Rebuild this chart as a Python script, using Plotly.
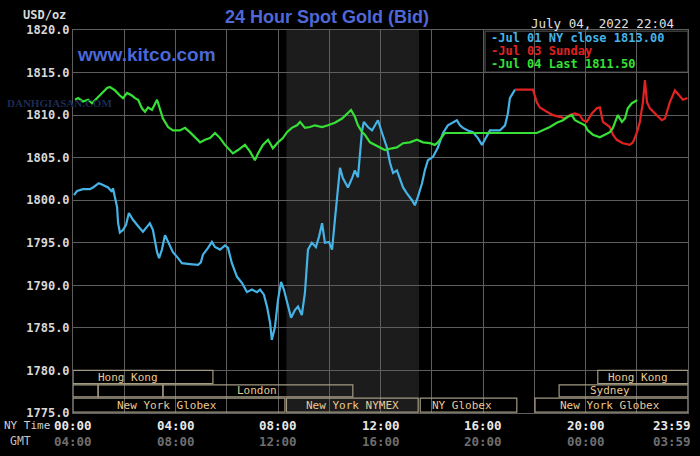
import plotly.graph_objects as go

# ---------------- data (NY time in hours, price USD/oz) ----------------
jul01_t = [0.04, 0.16, 0.39, 0.66, 0.78, 1.01, 1.17, 1.37, 1.52, 1.56, 1.64, 1.72, 1.76, 1.83, 1.95,
           2.07, 2.18, 2.34, 2.61, 2.73, 2.89, 3.00, 3.12, 3.20, 3.28, 3.36, 3.47, 3.59, 3.71, 3.90,
           4.10, 4.25, 4.56, 4.88, 4.99, 5.07, 5.27, 5.42, 5.54, 5.74, 5.93, 6.05, 6.20, 6.40, 6.59,
           6.79, 6.98, 7.18, 7.30, 7.45, 7.57, 7.69, 7.76, 7.88, 8.00, 8.12, 8.23, 8.39, 8.51, 8.66,
           8.78, 8.93, 9.05, 9.17, 9.32, 9.48, 9.60, 9.72, 9.83, 9.99, 10.11, 10.22, 10.34, 10.42,
           10.53, 10.73, 10.89, 11.00, 11.12, 11.20, 11.28, 11.35, 11.51, 11.67, 11.78, 11.90, 12.06,
           12.25, 12.37, 12.49, 12.64, 12.76, 12.88, 13.03, 13.23, 13.34, 13.46, 13.62, 13.73, 13.85,
           14.05, 14.24, 14.44, 14.63, 14.83, 14.98, 15.10, 15.22, 15.41, 15.61, 15.80, 15.96, 16.07,
           16.27, 16.46, 16.66, 16.86, 16.97, 17.05, 17.17, 17.25]
jul01_v = [1800.6, 1801.1, 1801.3, 1801.3, 1801.5, 1802.0, 1801.8, 1801.5, 1801.0, 1801.4, 1800.3,
           1799.2, 1797.3, 1796.2, 1796.5, 1797.1, 1798.5, 1797.7, 1796.7, 1796.3, 1796.9, 1797.3,
           1796.5, 1795.3, 1793.9, 1793.2, 1794.2, 1795.9, 1795.1, 1793.9, 1793.2, 1792.6, 1792.5,
           1792.4, 1792.7, 1793.6, 1794.4, 1795.1, 1794.5, 1794.2, 1794.7, 1794.4, 1792.6, 1791.0,
           1790.3, 1789.2, 1789.5, 1789.2, 1789.5, 1788.9, 1787.5, 1785.6, 1783.6, 1785.1, 1788.3,
           1790.4, 1789.5, 1787.5, 1786.2, 1787.1, 1787.5, 1786.5, 1789.1, 1794.2, 1795.0, 1794.5,
           1795.7, 1797.3, 1795.0, 1795.1, 1794.2, 1797.7, 1801.5, 1803.8, 1802.6, 1801.5, 1802.6,
           1803.5, 1802.7, 1805.5, 1808.2, 1809.2, 1808.6, 1808.2, 1808.8, 1809.4, 1807.9, 1806.2,
           1804.4, 1803.2, 1803.5, 1802.4, 1801.5, 1800.8, 1800.0, 1799.4, 1800.4, 1802.0, 1803.5,
           1804.7, 1805.1, 1806.2, 1807.9, 1808.8, 1809.2, 1809.4, 1808.8, 1808.5, 1808.2, 1808.0,
           1807.3, 1806.5, 1807.1, 1808.2, 1808.2, 1808.2, 1808.8, 1810.2, 1812.0, 1812.7, 1813.0]

jul03_t = [17.25, 17.95, 18.10, 18.22, 18.49, 18.73, 19.00, 19.20, 19.39, 19.59, 19.78, 19.90, 20.05,
           20.25, 20.44, 20.56, 20.68, 20.84, 20.95, 21.07, 21.22, 21.46, 21.73, 21.85, 22.01, 22.12,
           22.24, 22.32, 22.40, 22.51, 22.79, 22.98, 23.10, 23.29, 23.49, 23.69, 23.80, 23.98]
jul03_v = [1813.0, 1813.0, 1811.5, 1810.9, 1810.4, 1810.0, 1809.8, 1809.6, 1810.0, 1810.2, 1810.0,
           1809.4, 1809.2, 1810.2, 1810.8, 1810.9, 1809.2, 1808.8, 1808.6, 1807.7, 1807.1, 1806.7,
           1806.5, 1806.8, 1808.0, 1809.2, 1811.5, 1814.1, 1811.5, 1810.8, 1810.0, 1809.4, 1809.6,
           1811.5, 1812.9, 1812.1, 1811.8, 1812.0]

jul04_t = [0.08, 0.20, 0.39, 0.59, 0.74, 0.94, 1.13, 1.33, 1.44, 1.64, 1.83, 1.95, 2.11, 2.30, 2.42,
           2.54, 2.69, 2.81, 2.93, 3.08, 3.28, 3.39, 3.51, 3.71, 3.90, 4.17, 4.37, 4.56, 4.76, 4.96,
           5.15, 5.35, 5.54, 5.74, 5.93, 6.13, 6.24, 6.44, 6.71, 6.91, 7.10, 7.22, 7.41, 7.61, 7.80,
           8.00, 8.19, 8.35, 8.54, 8.74, 8.86, 9.05, 9.25, 9.44, 9.72, 9.95, 10.22, 10.50, 10.69,
           10.85, 11.00, 11.12, 11.28, 11.39, 11.59, 11.78, 11.98, 12.17, 12.45, 12.64, 12.88, 13.15,
           13.42, 13.66, 13.93, 14.12, 14.24, 14.40, 14.51, 18.10, 18.34, 18.61, 18.88, 19.12, 19.31,
           19.47, 19.59, 19.78, 19.98, 20.09, 20.29, 20.56, 20.76, 20.95, 21.07, 21.19, 21.26, 21.42,
           21.54, 21.65, 21.81, 21.93, 22.01]
jul04_v = [1811.8, 1812.0, 1811.6, 1811.8, 1811.4, 1812.0, 1812.6, 1813.2, 1813.3, 1812.9, 1812.3,
           1812.0, 1812.6, 1812.3, 1812.0, 1811.8, 1810.8, 1810.4, 1810.9, 1810.6, 1811.8, 1810.8,
           1809.6, 1808.6, 1808.2, 1808.2, 1808.5, 1808.0, 1807.4, 1806.8, 1807.1, 1807.3, 1807.9,
           1807.3, 1806.5, 1805.9, 1805.5, 1805.9, 1806.5, 1805.7, 1804.7, 1805.5, 1806.5, 1807.1,
           1806.1, 1806.8, 1807.3, 1808.0, 1808.5, 1808.8, 1809.2, 1808.5, 1808.6, 1808.8, 1808.6,
           1808.8, 1809.1, 1809.6, 1810.2, 1810.6, 1809.8, 1808.8, 1808.0, 1807.7, 1806.8, 1806.5,
           1806.2, 1805.9, 1806.1, 1806.2, 1806.7, 1806.8, 1807.1, 1806.8, 1806.7, 1806.5, 1806.8,
           1807.4, 1807.9, 1807.9, 1808.2, 1808.6, 1809.1, 1809.4, 1809.8, 1810.0, 1809.4, 1809.1,
           1808.8, 1808.2, 1807.7, 1807.4, 1807.7, 1808.0, 1808.5, 1809.6, 1810.0, 1809.2, 1809.6,
           1810.8, 1811.4, 1811.6, 1811.8]

legend_labels = ["-Jul 01 NY close 1813.00", "-Jul 03 Sunday", "-Jul 04 Last 1811.50"]
series_colors = ["#45b3e6", "#e02222", "#36e036"]

tick_hours = [0, 4, 8, 12, 16, 20, 23.983]
ny_labels = ["00:00", "04:00", "08:00", "12:00", "16:00", "20:00", "23:59"]
gmt_labels = ["04:00", "08:00", "12:00", "16:00", "20:00", "00:00", "03:59"]

# trading sessions: name, start hour, end hour, row (0 = top), label hour
sess_names = ["Hong Kong", "", "", "London", "New York Globex", "New York NYMEX", "NY Globex",
              "New York Globex", "Sydney", "Hong Kong"]
sess_start = [0.0, 0.0, 0.98, 3.51, 0.0, 8.33, 13.55, 18.03, 18.97, 20.48]
sess_end = [5.46, 0.98, 3.51, 10.92, 8.27, 13.47, 17.32, 24.0, 24.0, 24.0]
sess_row = [0, 1, 1, 1, 2, 2, 2, 2, 1, 0]
sess_label_x = [2.15, None, None, 7.18, 3.67, 10.89, 15.18, 20.95, 20.95, 22.04]

nymex_shade = (8.33, 13.5)

# ---------------- figure ----------------
MONO = "DejaVu Sans Mono"
fig = go.Figure()
for t, v, c in [(jul01_t, jul01_v, series_colors[0]),
                (jul03_t, jul03_v, series_colors[1]),
                (jul04_t, jul04_v, series_colors[2])]:
    fig.add_trace(go.Scatter(x=t, y=v, mode="lines", line=dict(color=c, width=2.2),
                             hoverinfo="skip", showlegend=False))

shapes = []
# NYMEX shaded session
shapes.append(dict(type="rect", xref="x", yref="paper", x0=nymex_shade[0], x1=nymex_shade[1],
                   y0=0, y1=1, fillcolor="#1c1c1c", line_width=0, layer="below"))
# session boxes
row_y = [(1780.0, 1778.45), (1778.3, 1776.9), (1776.75, 1775.1)]
annotations = []
for name, s, e, r, lx in zip(sess_names, sess_start, sess_end, sess_row, sess_label_x):
    y1, y0 = row_y[r]
    shapes.append(dict(type="rect", xref="x", yref="y", x0=s, x1=e, y0=y0, y1=y1,
                       line=dict(color="#a39a82", width=1.2), fillcolor="rgba(0,0,0,0)",
                       layer="above"))
    if name:
        annotations.append(dict(x=lx, y=(y0 + y1) / 2, xref="x", yref="y", text=name,
                                showarrow=False, font=dict(family=MONO, size=11, color="#eac894"),
                                xanchor="center", yanchor="middle"))
# legend box
shapes.append(dict(type="rect", xref="paper", yref="paper", x0=0.67, x1=1.0, y0=0.89, y1=0.997,
                   fillcolor="#000000", line=dict(color="#5a5a5a", width=1), layer="between"))
leg_y = [0.980, 0.945, 0.910]
for lab, c, yy in zip(legend_labels, series_colors, leg_y):
    annotations.append(dict(x=0.676, y=yy, xref="paper", yref="paper", text=lab, showarrow=False,
                            xanchor="left", yanchor="middle",
                            font=dict(family=MONO, size=12, color=c, weight="bold")))

# x tick labels (two rows)
for h, a, b in zip(tick_hours, ny_labels, gmt_labels):
    last = h > 23.5
    annotations.append(dict(x=h, y=0, xref="x", yref="paper", text=a, showarrow=False,
                            xanchor="right" if last else "center", xshift=5 if last else 0,
                            yanchor="middle", yshift=-12,
                            font=dict(family=MONO, size=12.5, color="#e8e8e8", weight="bold")))
    annotations.append(dict(x=h, y=0, xref="x", yref="paper", text=b, showarrow=False,
                            xanchor="right" if last else "center", xshift=5 if last else 0,
                            yanchor="middle", yshift=-28,
                            font=dict(family=MONO, size=12.5, color="#6e6e6e", weight="bold")))
annotations += [
    dict(x=-0.116, y=0, xref="paper", yref="paper", text="NY Time", showarrow=False,
         xanchor="left", yanchor="middle", yshift=-12,
         font=dict(family=MONO, size=11, color="#d0d0d0")),
    dict(x=-0.0846, y=0, xref="paper", yref="paper", text="GMT", showarrow=False,
         xanchor="center", yanchor="middle", yshift=-28,
         font=dict(family=MONO, size=11.5, color="#c0c0c0")),
    dict(x=0, y=1, xref="paper", yref="paper", text="USD/oz", showarrow=False,
         xanchor="right", xshift=-5, yanchor="middle", yshift=15,
         font=dict(family=MONO, size=12, color="#d8d8d8", weight="bold")),
    dict(x=0.413, y=1, xref="paper", yref="paper", text="24 Hour Spot Gold (Bid)", showarrow=False,
         xanchor="center", yanchor="middle", yshift=13,
         font=dict(family="Liberation Sans", size=18, color="#5068d6", weight="bold")),
    dict(x=0.9805, y=1, xref="paper", yref="paper", text="July 04, 2022 22:04", showarrow=False,
         xanchor="right", yanchor="middle", yshift=7,
         font=dict(family=MONO, size=12.5, color="#e0e0e0")),
    dict(x=0.003, y=0.937, xref="paper", yref="paper", text="www.kitco.com", showarrow=False,
         xanchor="left", yanchor="middle",
         font=dict(family="Liberation Sans", size=19, color="#4a68d8", weight="bold")),
    dict(x=-0.111, y=0.81, xref="paper", yref="paper", text="DANHGIASAN.COM", showarrow=False,
         xanchor="left", yanchor="middle",
         font=dict(family="Liberation Serif", size=11, color="#1d2c52", weight="bold")),
]

fig.update_layout(
    width=700, height=456,
    margin=dict(l=73, r=12, t=30, b=43),
    paper_bgcolor="#000000", plot_bgcolor="#000000",
    shapes=shapes, annotations=annotations, showlegend=False,
    xaxis=dict(range=[0, 24], tickvals=list(range(0, 25, 2)), showticklabels=False,
               showgrid=True, gridcolor="#5e5e5e", gridwidth=1, zeroline=False,
               showline=True, mirror=True, linecolor="#5e5e5e", linewidth=1, ticks=""),
    yaxis=dict(range=[1775, 1820], dtick=5, tick0=1775, tickformat=".1f", showgrid=True,
               gridcolor="#5e5e5e", gridwidth=1, zeroline=False, showline=True, mirror=True,
               linecolor="#5e5e5e", linewidth=1, ticks="",
               tickfont=dict(family=MONO, size=12, color="#d8d8d8", weight="bold")),
)

fig.write_html("out.html")
